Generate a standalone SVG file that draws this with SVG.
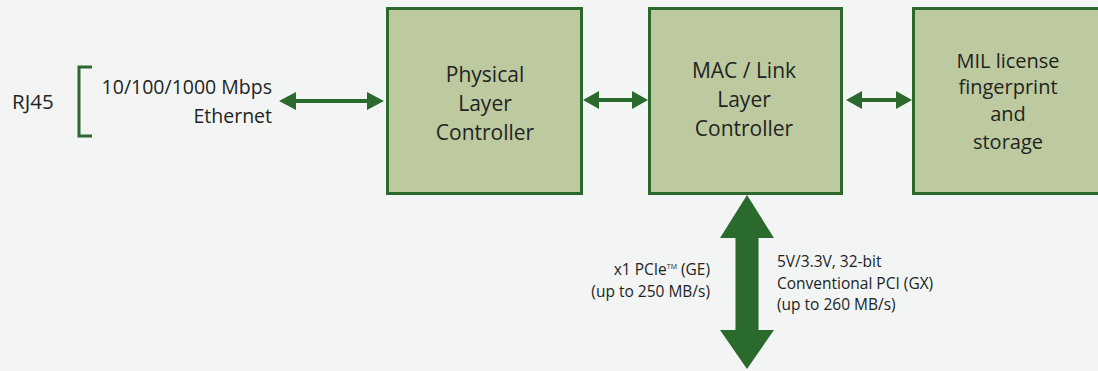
<svg xmlns="http://www.w3.org/2000/svg" width="1098" height="371" viewBox="0 0 1098 371">
<style>
.box{fill:#bdca9f;stroke:#2c672e;stroke-width:3}
.t{font-family:"Open Sans","Noto Sans",sans-serif;fill:#22241f}
.bt{font-size:21px;text-anchor:middle}
.mt{font-size:20px;text-anchor:middle}
.s{font-size:19.5px}
.sm{font-size:15.5px}
.arr{fill:#2a6a2d}
</style>
<rect width="1098" height="371" fill="#f3f5f4"/>
<g id="rj45">
<text class="t" font-size="20.5" x="12" y="109">RJ45</text>
<path d="M92,67 H79 V136 H92" fill="none" stroke="#2c672e" stroke-width="3"/>
<text class="t s" x="272" y="94" text-anchor="end">10/100/1000 Mbps</text>
<text class="t s" x="272" y="123" text-anchor="end">Ethernet</text>
</g>
<g id="phy">
<rect class="box" x="387.5" y="8.5" width="194" height="185"/>
<text class="t bt" x="485" y="82">Physical</text>
<text class="t bt" x="485" y="111">Layer</text>
<text class="t bt" x="485" y="140">Controller</text>
</g>
<g id="mac">
<rect class="box" x="649.5" y="8.5" width="192" height="185"/>
<text class="t bt" x="744" y="78">MAC / Link</text>
<text class="t bt" x="744" y="107">Layer</text>
<text class="t bt" x="744" y="136">Controller</text>
</g>
<g id="mil">
<rect class="box" x="913.5" y="8.5" width="200" height="185"/>
<text class="t mt" x="1008" y="68">MIL license</text>
<text class="t mt" x="1008" y="94">fingerprint</text>
<text class="t mt" x="1008" y="121">and</text>
<text class="t mt" x="1008" y="149">storage</text>
</g>
<g id="bus-labels">
<text class="t sm" x="710" y="275" text-anchor="end">x1 PCIe<tspan font-size="7" dy="-6">TM</tspan><tspan dy="6"> (GE)</tspan></text>
<text class="t sm" x="710" y="297" text-anchor="end">(up to 250 MB/s)</text>
<text class="t sm" x="777" y="267">5V/3.3V, 32-bit</text>
<text class="t sm" x="777" y="289">Conventional PCI (GX)</text>
<text class="t sm" x="777" y="310">(up to 260 MB/s)</text>
</g>
<g id="connectors" class="arr">
<polygon points="279,101 296,92 296,99 367,99 367,92 384,101 367,110 367,103 296,103 296,110"/>
<polygon points="583,100 599,91 599,98 632,98 632,91 648,100 632,109 632,102 599,102 599,109"/>
<polygon points="846,100 862,91 862,98 896,98 896,91 912,100 896,109 896,102 862,102 862,109"/>
<polygon points="747,195 774,238 758.5,238 758.5,330 774,330 747,369 720,330 735.5,330 735.5,238 720,238"/>
</g>
</svg>
